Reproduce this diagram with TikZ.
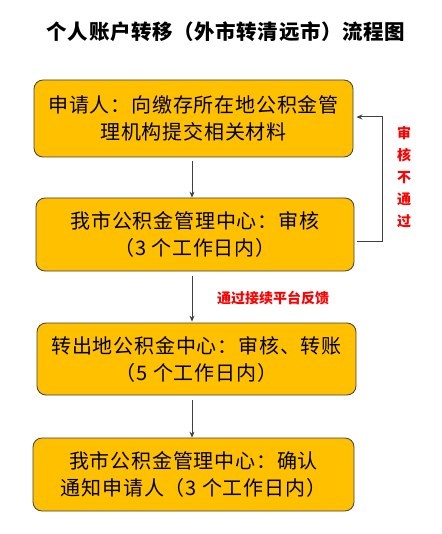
\documentclass[tikz,border=0pt]{standalone}
\usepackage{fontspec}
\setmainfont{Noto Sans CJK SC}
\usetikzlibrary{arrows.meta}
\definecolor{boxfill}{HTML}{FFC000}
\definecolor{linegray}{HTML}{404040}
\definecolor{redtxt}{HTML}{FF0000}
\tikzset{
  stepbox/.style={draw=linegray, line width=0.8pt, fill=boxfill, rounded corners=9pt,
    align=center, font=\fontsize{20}{27}\selectfont\addfontfeatures{LetterSpace=4}, inner sep=0pt},
  arr/.style={draw=linegray, line width=1pt, -{Stealth[length=6pt,width=5pt]}},
  redlbl/.style={text=redtxt, font=\fontsize{14}{22}\selectfont\bfseries, inner sep=0pt},
}
\begin{document}
\begin{tikzpicture}[x=1pt,y=-1pt]
\useasboundingbox (0,0) rectangle (441,534);
\node[font=\fontsize{20.5}{24}\selectfont\bfseries\addfontfeatures{LetterSpace=3}, inner sep=0pt] (title) at (226,32) {个人账户转移（外市转清远市）流程图};
\node[stepbox, minimum width=319pt, minimum height=77pt] (b1) at (193.5,118.5) {申请人：向缴存所在地公积金管\\理机构提交相关材料};
\node[stepbox, minimum width=318pt, minimum height=73pt] (b2) at (195,234.5) {我市公积金管理中心：审核\\（3 个工作日内）};
\node[stepbox, minimum width=319pt, minimum height=72pt] (b3) at (196.5,359) {转出地公积金中心：审核、转账\\（5 个工作日内）};
\node[stepbox, minimum width=321pt, minimum height=73pt] (b4) at (193.5,474.5) {我市公积金管理中心：确认\\通知申请人（3 个工作日内）};
\coordinate (ax) at (192,0);
\coordinate (fb1) at (382,241);
\coordinate (fb2) at (382,117);
\draw[arr, shorten <=4pt] (b1.south -| ax) -- (b2.north -| ax);
\draw[arr, shorten <=5pt, shorten >=1pt] (b2.south -| ax) -- (b3.north -| ax);
\draw[arr, shorten <=5pt] (b3.south -| ax) -- (b4.north -| ax);
\draw[arr, shorten <=3pt, shorten >=3pt] (b2.east |- fb1) -- (fb1) -- (fb2) -- (b1.east |- fb2);
\node[redlbl, align=center] (rej) at (404,177) {审\\核\\不\\通\\过};
\node[redlbl] (fbk) at (273,298) {通过接续平台反馈};
\end{tikzpicture}
\end{document}
